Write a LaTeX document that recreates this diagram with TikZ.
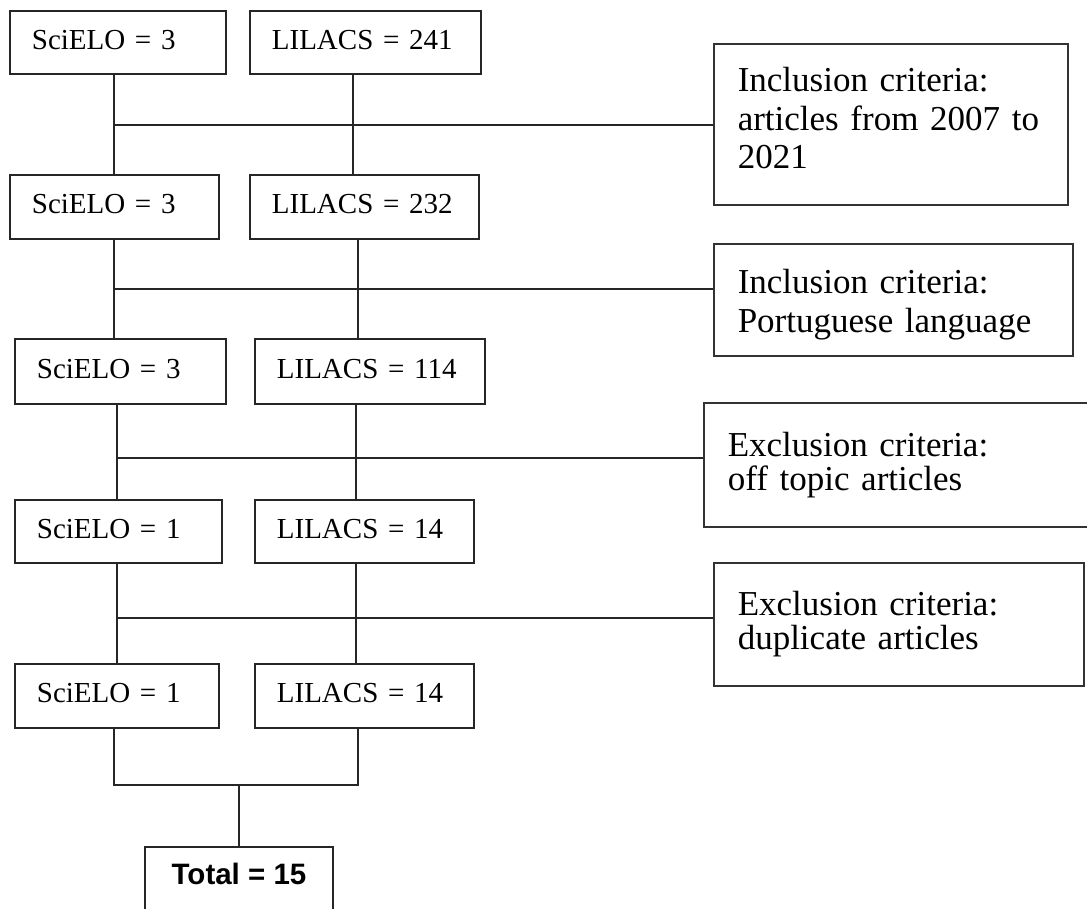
\documentclass[tikz,border=0pt]{standalone}
\usepackage{fontspec}
\setmainfont{Liberation Serif}
\newfontfamily\arialfont{Liberation Sans}

\tikzset{
    link/.style={line width=1.8pt, black!85},
    dbbox/.style={draw, link, anchor=north west, inner xsep=22pt, inner ysep=0pt,
        text height=20pt, text depth=6pt, align=left, text=black,
        font=\fontsize{29}{33}\selectfont},
    critbox/.style={draw, line width=1.5pt, black!80, anchor=north west,
        inner xsep=24pt, inner ysep=0pt, align=left, text=black},
}

\begin{document}
\begin{tikzpicture}[x=1pt, y=-1pt]
    \useasboundingbox (0,0) rectangle (1087,908);
    \clip (0,0) rectangle (1087,908);
    % database counts, one row per screening step
    \node[dbbox, text width=172pt, minimum height=63pt] (S1) at (9,10) {SciELO = 3};
    \node[dbbox, text width=187pt, minimum height=63pt] (L1) at (249,10) {LILACS = 241};
    \node[dbbox, text width=165pt, minimum height=64pt] (S2) at (9,174) {SciELO = 3};
    \node[dbbox, text width=185pt, minimum height=64pt] (L2) at (249,174) {LILACS = 232};
    \node[dbbox, text width=167pt, minimum height=65pt] (S3) at (14,338) {SciELO = 3};
    \node[dbbox, text width=186pt, minimum height=65pt] (L3) at (254,338) {LILACS = 114};
    \node[dbbox, text width=163pt, minimum height=63pt] (S4) at (14,499) {SciELO = 1};
    \node[dbbox, text width=175pt, minimum height=63pt] (L4) at (254,499) {LILACS = 14};
    \node[dbbox, text width=160pt, minimum height=64pt] (S5) at (14,663) {SciELO = 1};
    \node[dbbox, text width=175pt, minimum height=64pt] (L5) at (254,663) {LILACS = 14};
    \node[draw, link, anchor=north, inner ysep=17pt, text height=21pt, text depth=40pt,
        minimum width=188pt, text=black, font=\arialfont\bfseries\fontsize{29.5}{33}\selectfont]
        (T) at (239,846) {Total = 15};
    % criteria boxes on the right
    \begin{scope}[font=\fontsize{35}{38.5}\selectfont]
        \node[critbox, text width=306pt, minimum height=161pt, text depth=89pt] (C1) at (713,43)
            {Inclusion criteria:\\ \mbox{articles from 2007 to}\\ 2021};
        \node[critbox, text width=311pt, minimum height=112pt, text height=34pt] (C2) at (713,243)
            {Inclusion criteria:\\ Portuguese language};
    \end{scope}
    \begin{scope}[font=\fontsize{35}{34}\selectfont]
        \node[critbox, text width=352pt, minimum height=124pt] (C3) at (703,402)
            {Exclusion criteria:\\ off topic articles};
        \node[critbox, text width=322pt, minimum height=123pt] (C4) at (713,562)
            {Exclusion criteria:\\ duplicate articles};
    \end{scope}
    \foreach \a/\b/\sx/\lx/\y in {1/2/114/353/125, 2/3/114/358/289,
                                  3/4/117/356/458, 4/5/117/356/618}{
        \coordinate (sj\a) at (\sx,\y);
        \coordinate (lj\a) at (\lx,\y);
        \draw[link] (S\a.south -| sj\a) -- (S\b.north -| sj\a);
        \draw[link] (L\a.south -| lj\a) -- (L\b.north -| lj\a);
        \draw[link] (sj\a) -- (sj\a -| C\a.west);
    }
    \coordinate (sj5) at (114,785);
    \coordinate (lj5) at (358,785);
    \draw[link] (S5.south -| sj5) -- (sj5) -- (lj5) -- (L5.south -| lj5);
    \draw[link] (T.north) -- (T.north |- sj5);
\end{tikzpicture}
\end{document}
